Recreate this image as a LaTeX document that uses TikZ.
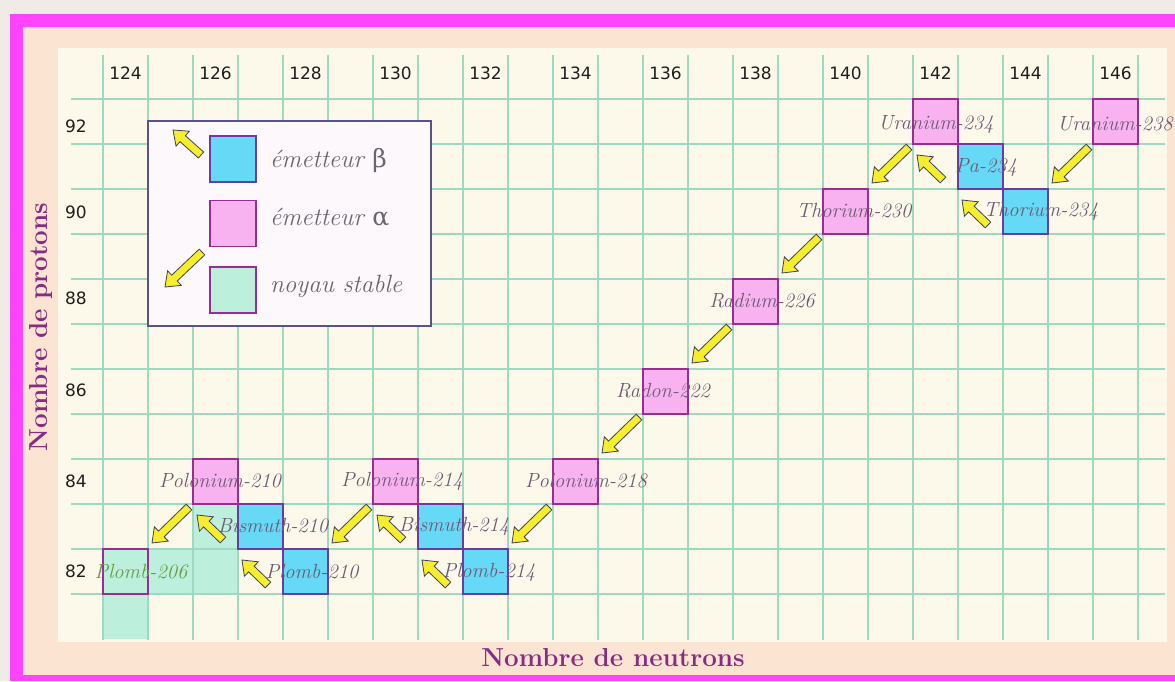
\documentclass[tikz,border=0pt]{standalone}
\usepackage{fontspec}
\newfontfamily\numfont{DejaVu Sans}
\newfontfamily\grkfont{DejaVu Serif}
\usetikzlibrary{calc}
\definecolor{bggray}{HTML}{EEECE4}
\definecolor{framemag}{HTML}{FF44FF}
\definecolor{peach}{HTML}{FCE4D2}
\definecolor{cream}{HTML}{FCF8EA}
\definecolor{gridc}{HTML}{9ED9C0}
\definecolor{alphafill}{HTML}{F8B2F0}
\definecolor{alphadraw}{HTML}{9A2E90}
\definecolor{betafill}{HTML}{66D9F6}
\definecolor{betadraw}{HTML}{6A3C9C}
\definecolor{stablefill}{HTML}{BDEFDD}
\definecolor{legendfill}{HTML}{FDF8FC}
\definecolor{legenddraw}{HTML}{5A528C}
\definecolor{labelc}{HTML}{6E5A76}
\definecolor{legtext}{HTML}{6E6470}
\definecolor{greenlab}{HTML}{6A9A46}
\definecolor{numc}{HTML}{1E1E1E}
\definecolor{titlec}{HTML}{862C84}
\definecolor{arrowfill}{HTML}{F6EE2C}
\definecolor{arrowdraw}{HTML}{40405E}
\newcommand\yarrow[2]{%
  \coordinate (yb) at ($(#2)!13pt!(#1)$);
  \draw[decayarrow] ($(#1)!4pt!90:(#2)$) -- ($(yb)!4pt!90:(#2)$) -- ($(yb)!10pt!90:(#2)$) -- (#2)
    -- ($(yb)!10pt!-90:(#2)$) -- ($(yb)!4pt!-90:(#2)$) -- ($(#1)!4pt!-90:(#2)$) -- cycle;}
\begin{document}
\begin{tikzpicture}[x=1pt,y=-1pt,
  cell/.style={minimum size=45pt, inner sep=0pt, line width=1.4pt},
  alphabox/.style={cell, fill=alphafill, draw=alphadraw},
  betabox/.style={cell, fill=betafill, draw=betadraw},
  stablebox/.style={cell, fill=stablefill, draw=alphadraw},
  nuclab/.style={text=labelc, font=\fontsize{20.5}{20.5}\selectfont\itshape, inner sep=0pt},
  gridline/.style={draw=gridc, line width=1.1pt},
  numlab/.style={font=\numfont\fontsize{17}{17}\selectfont, text=numc, inner sep=0pt},
  leglab/.style={font=\fontsize{25}{25}\selectfont\itshape, text=legtext, anchor=base west, inner sep=0pt},
  decayarrow/.style={fill=arrowfill, draw=arrowdraw, line width=0.8pt, line join=miter},
  axistitle/.style={font=\fontsize{26}{26}\selectfont\bfseries, text=titlec, inner sep=0pt}
]
\useasboundingbox (0,0) rectangle (1175,681);
% background and frame
\fill[bggray] (0,0) rectangle (1175,681);
\fill[framemag] (10,14) rectangle (1175,681);
\fill[peach] (23,27) rectangle (1175,675);
\fill[cream] (58,48) rectangle (1167,642);
% faint stable region
\fill[stablefill] (148,549) rectangle (238,594);
\fill[stablefill] (193,504) rectangle (238,549);
\fill[stablefill] (103,594) rectangle (148,639);
% grid
\foreach \k in {0,...,23} \draw[gridline] ({103+45*\k},55) -- ({103+45*\k},640);
\foreach \k in {0,...,11} \draw[gridline] (71,{99+45*\k}) -- (1165,{99+45*\k});
% axis numbers
\foreach \n [count=\i from 0] in {124,126,...,146}
  \node[numlab] (col\n) at ({125.5+90*\i},73) {\n};
\node[numlab] (row92) at (76,126) {92};
\node[numlab] (row90) at (76,212) {90};
\node[numlab] (row88) at (76,298) {88};
\node[numlab] (row86) at (76,390) {86};
\node[numlab] (row84) at (76,481) {84};
\node[numlab] (row82) at (76,571) {82};
% axis titles
\node[axistitle, rotate=90] (ytitle) at (41,327) {Nombre de protons};
\node[axistitle] (xtitle) at (613,658) {Nombre de neutrons};
% legend
\node[draw=legenddraw, fill=legendfill, line width=1.5pt, minimum width=283pt, minimum height=205pt, inner sep=0pt] (legend) at (289.5,223.5) {};
\node[betabox, minimum size=46pt] (legbeta) at (233,159) {};
\node[alphabox, minimum size=46pt] (legalpha) at (233,223.5) {};
\node[stablebox, minimum size=46pt] (legstable) at (233,290) {};
\node[leglab] (legbetatxt) at (270,167) {émetteur {\grkfont\upshape β}};
\node[leglab] (legalphatxt) at (270,225) {émetteur {\grkfont\upshape α}};
\node[leglab] (legstabletxt) at (270,292) {noyau stable};
\coordinate (lbt) at (201,155); \coordinate (lbh) at (173,130);
\coordinate (lat) at (202,252); \coordinate (lah) at (165,287);
\yarrow{lbt}{lbh}
\yarrow{lat}{lah}
% nuclei
\node[alphabox] (U238) at (1115.5,121.5) {};
\node[betabox] (Th234) at (1025.5,211.5) {};
\node[betabox] (Pa234) at (980.5,166.5) {};
\node[alphabox] (U234) at (935.5,121.5) {};
\node[alphabox] (Th230) at (845.5,211.5) {};
\node[alphabox] (Ra226) at (755.5,301.5) {};
\node[alphabox] (Rn222) at (665.5,391.5) {};
\node[alphabox] (Po218) at (575.5,481.5) {};
\node[betabox] (Pb214) at (485.5,571.5) {};
\node[betabox] (Bi214) at (440.5,526.5) {};
\node[alphabox] (Po214) at (395.5,481.5) {};
\node[betabox] (Pb210) at (305.5,571.5) {};
\node[betabox] (Bi210) at (260.5,526.5) {};
\node[alphabox] (Po210) at (215.5,481.5) {};
\node[stablebox] (Pb206) at (125.5,571.5) {};
% labels
\node[nuclab] (lU234) at (936,124) {Uranium-234};
\node[nuclab] (lU238) at (1115,124) {Uranium-238};
\node[nuclab] (lTh230) at (854,211) {Thorium-230};
\node[nuclab] (lTh234) at (1041,211) {Thorium-234};
\node[nuclab] (lPa234) at (986,167) {Pa-234};
\node[nuclab] (lRa226) at (762,301) {Radium-226};
\node[nuclab] (lRn222) at (663,391) {Radon-222};
\node[nuclab] (lPo218) at (586,481) {Polonium-218};
\node[nuclab] (lPb214) at (489,572) {Plomb-214};
\node[nuclab] (lBi214) at (454,526) {Bismuth-214};
\node[nuclab] (lPo214) at (402,481) {Polonium-214};
\node[nuclab] (lBi210) at (273,526) {Bismuth-210};
\node[nuclab] (lPb210) at (312,572) {Plomb-210};
\node[nuclab] (lPo210) at (220,481) {Polonium-210};
\node[nuclab, text=greenlab] (lPb206) at (141,572) {Plomb-206};
% alpha decays
\coordinate (aU238t) at (1089,147); \coordinate (aU238h) at (1052,183);
\coordinate (aU234t) at (909,147); \coordinate (aU234h) at (872,183);
\coordinate (aTh230t) at (819,237); \coordinate (aTh230h) at (782,273);
\coordinate (aRa226t) at (729,327); \coordinate (aRa226h) at (692,363);
\coordinate (aRn222t) at (639,417); \coordinate (aRn222h) at (602,453);
\coordinate (aPo218t) at (549,507); \coordinate (aPo218h) at (512,543);
\coordinate (aPo214t) at (369,507); \coordinate (aPo214h) at (332,543);
\coordinate (aPo210t) at (189,507); \coordinate (aPo210h) at (152,543);
\foreach \a in {U238,U234,Th230,Ra226,Rn222,Po218,Po214,Po210} {\yarrow{a\a t}{a\a h}}
% beta decays
\coordinate (bTh234t) at (988,225); \coordinate (bTh234h) at (962,200);
\coordinate (bPa234t) at (943,180); \coordinate (bPa234h) at (917,155);
\coordinate (bBi214t) at (403,540); \coordinate (bBi214h) at (377,515);
\coordinate (bPb214t) at (448,585); \coordinate (bPb214h) at (422,560);
\coordinate (bBi210t) at (223,540); \coordinate (bBi210h) at (197,515);
\coordinate (bPb210t) at (268,585); \coordinate (bPb210h) at (242,560);
\foreach \b in {Th234,Pa234,Bi214,Pb214,Bi210,Pb210} {\yarrow{b\b t}{b\b h}}
\end{tikzpicture}
\end{document}
